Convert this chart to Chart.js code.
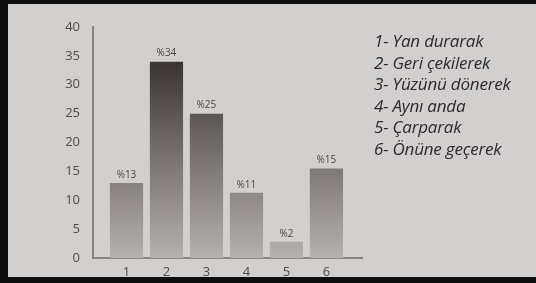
<!DOCTYPE html>
<html>
<head>
<meta charset="utf-8">
<script src="https://cdn.jsdelivr.net/npm/chart.js@4/dist/chart.umd.min.js"></script>
<style>
  html, body { margin: 0; padding: 0; background: #0d0d0d; }
  #page {
    position: absolute; left: 8px; top: 4px; width: 528px; height: 273px;
    background: #d2d0ce;
  }
  #wrap { position: absolute; left: 0; top: 0; width: 536px; height: 283px; }
  #notes {
    position: absolute; left: 374px; top: 30px; margin: 0; padding: 0;
    list-style: none; font-family: "Open Sans", sans-serif; font-style: italic;
    font-size: 17px; line-height: 21.6px; color: #2c2a2a; letter-spacing: -0.2px;
  }
</style>
</head>
<body>
<div id="page"></div>
<div id="wrap"><canvas id="chart" width="536" height="283"></canvas></div>
<ul id="notes"></ul>
<script>
// Categories (1-6) and their descriptions
const categories = ['1', '2', '3', '4', '5', '6'];
const descriptions = [
  'Yan durarak',
  'Geri çekilerek',
  'Yüzünü dönerek',
  'Aynı anda',
  'Çarparak',
  'Önüne geçerek'
];
const values = [13, 34, 25, 11.3, 2.8, 15.5];
const percentLabels = ['%13', '%34', '%25', '%11', '%2', '%15'];
const yTicks = [0, 5, 10, 15, 20, 25, 30, 35, 40];

// Side list
const notes = document.getElementById('notes');
descriptions.forEach((d, i) => {
  const li = document.createElement('li');
  li.textContent = categories[i] + '- ' + d;
  notes.appendChild(li);
});

// Percent labels over bars
const barLabels = {
  id: 'barLabels',
  afterDatasetsDraw(chart) {
    const ctx = chart.ctx;
    const meta = chart.getDatasetMeta(0);
    ctx.save();
    ctx.font = '10px "Open Sans", sans-serif';
    ctx.fillStyle = '#4a4646';
    ctx.textAlign = 'center';
    ctx.textBaseline = 'bottom';
    meta.data.forEach((bar, i) => {
      ctx.fillText(percentLabels[i], bar.x, bar.y - 3);
    });
    ctx.restore();
  }
};

const ctx = document.getElementById('chart').getContext('2d');
new Chart(ctx, {
  type: 'bar',
  data: {
    datasets: [{
      data: values.map((v, i) => ({ x: i + 1, y: v })),
      backgroundColor: (c) => {
        const area = c.chart.chartArea;
        if (!area) return '#777';
        const g = c.chart.ctx.createLinearGradient(0, area.top, 0, area.bottom);
        g.addColorStop(0, '#2f2929');
        g.addColorStop(0.15, '#3a3434');
        g.addColorStop(0.6, '#7d7776');
        g.addColorStop(1, '#b5b1b0');
        return g;
      },
      borderWidth: 0,
      barPercentage: 0.83,
      categoryPercentage: 1
    }]
  },
  options: {
    responsive: false,
    animation: false,
    layout: { padding: { left: 63, top: 27, right: 174, bottom: 0 } },
    plugins: { legend: { display: false }, tooltip: { enabled: false } },
    scales: {
      x: {
        type: 'linear',
        offset: false,
        min: 0.1625,
        max: 6.89,
        grid: { display: false },
        border: { display: true, color: '#8a8583', width: 2 },
        afterFit: (s) => { s.height = 25; },
        ticks: {
          stepSize: 1,
          includeBounds: false,
          autoSkip: false,
          padding: -2,
          color: '#4e4b4b',
          font: { family: '"Open Sans", sans-serif', size: 13 },
          callback: (v) => categories[v - 1] || ''
        }
      },
      y: {
        min: 0,
        max: 40,
        grid: { display: false },
        border: { display: true, color: '#8a8583', width: 2 },
        afterFit: (s) => { s.width = 30; },
        afterBuildTicks: (s) => { s.ticks = yTicks.map(v => ({ value: v })); },
        ticks: {
          padding: 5,
          color: '#4e4b4b',
          font: { family: '"Open Sans", sans-serif', size: 13 }
        }
      }
    }
  },
  plugins: [barLabels]
});
</script>
</body>
</html>
